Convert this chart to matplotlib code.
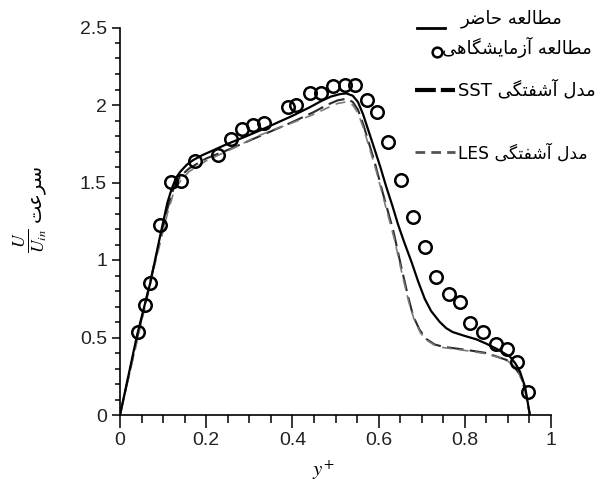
import matplotlib
matplotlib.use("Agg")
import matplotlib.pyplot as plt
from matplotlib.lines import Line2D
from matplotlib.ticker import MultipleLocator

plt.rcParams["mathtext.fontset"] = "stix"

# داده ها (خوانده شده از شکل)
exp_x = [0.041, 0.059, 0.069, 0.092, 0.119, 0.142, 0.173, 0.227, 0.257, 0.283,
         0.309, 0.333, 0.390, 0.408, 0.440, 0.467, 0.494, 0.521, 0.545, 0.572,
         0.597, 0.622, 0.653, 0.680, 0.707, 0.733, 0.764, 0.790, 0.813, 0.843,
         0.872, 0.897, 0.922, 0.947]
exp_y = [0.537, 0.710, 0.854, 1.226, 1.505, 1.510, 1.640, 1.675, 1.783, 1.845,
         1.868, 1.885, 1.990, 2.000, 2.075, 2.080, 2.120, 2.130, 2.130, 2.030,
         1.957, 1.763, 1.516, 1.280, 1.086, 0.888, 0.780, 0.731, 0.596, 0.538,
         0.458, 0.424, 0.344, 0.150]

present_x = [0.0, 0.04, 0.07, 0.095, 0.11, 0.12, 0.13, 0.14, 0.155, 0.17,
             0.19, 0.21, 0.246, 0.29, 0.324, 0.36, 0.40, 0.44, 0.47, 0.49,
             0.51, 0.525, 0.54, 0.552, 0.564, 0.577, 0.59, 0.604, 0.618, 0.632,
             0.645, 0.66, 0.676, 0.692, 0.707, 0.722, 0.742, 0.757, 0.772, 0.80,
             0.827, 0.85, 0.875, 0.905, 0.918, 0.928, 0.94, 0.951]
present_y = [0.0, 0.52, 0.85, 1.18, 1.37, 1.46, 1.53, 1.57, 1.615, 1.645,
             1.675, 1.70, 1.745, 1.795, 1.835, 1.88, 1.93, 1.985, 2.03, 2.055,
             2.07, 2.075, 2.06, 2.02, 1.94, 1.83, 1.72, 1.60, 1.47, 1.35,
             1.23, 1.11, 0.99, 0.86, 0.75, 0.67, 0.60, 0.56, 0.535, 0.51,
             0.488, 0.46, 0.425, 0.376, 0.33, 0.28, 0.18, 0.0]

sst_x = [0.0, 0.04, 0.08, 0.11, 0.125, 0.14, 0.16, 0.20, 0.25, 0.30, 0.35,
         0.40, 0.45, 0.48, 0.505, 0.525, 0.54, 0.552, 0.565, 0.578, 0.59,
         0.61, 0.634, 0.653, 0.668, 0.68, 0.695, 0.711, 0.73, 0.75, 0.804,
         0.85, 0.897, 0.915, 0.928, 0.94, 0.951]
sst_y = [0.0, 0.50, 0.98, 1.33, 1.47, 1.54, 1.59, 1.655, 1.71, 1.77, 1.83,
         1.89, 1.955, 2.0, 2.03, 2.04, 2.02, 1.97, 1.87, 1.75, 1.64,
         1.43, 1.19, 0.95, 0.77, 0.64, 0.55, 0.49, 0.455, 0.44, 0.42,
         0.40, 0.355, 0.31, 0.26, 0.16, 0.0]

les_x = [0.0, 0.04, 0.08, 0.11, 0.125, 0.14, 0.16, 0.20, 0.27, 0.316, 0.355,
         0.386, 0.45, 0.48, 0.505, 0.525, 0.54, 0.552, 0.565, 0.58, 0.595,
         0.614, 0.637, 0.656, 0.67, 0.682, 0.697, 0.713, 0.73, 0.75, 0.804,
         0.85, 0.897, 0.915, 0.928, 0.94, 0.951]
les_y = [0.0, 0.48, 0.96, 1.30, 1.44, 1.51, 1.57, 1.64, 1.73, 1.795, 1.84,
         1.87, 1.94, 1.98, 2.01, 2.02, 2.0, 1.95, 1.85, 1.71, 1.57,
         1.37, 1.13, 0.89, 0.73, 0.62, 0.53, 0.48, 0.45, 0.435, 0.415,
         0.395, 0.355, 0.31, 0.26, 0.16, 0.0]

x_ticks = [0, 0.2, 0.4, 0.6, 0.8, 1]
x_labels = ["0", "0.2", "0.4", "0.6", "0.8", "1"]
y_ticks = [0, 0.5, 1, 1.5, 2, 2.5]
y_labels = ["0", "0.5", "1", "1.5", "2", "2.5"]

lbl_present = "مطالعه حاضر"
lbl_exp = "مطالعه آزمایشگاهی"
lbl_sst = "مدل آشفتگی SST"
lbl_les = "مدل آشفتگی LES"
lbl_speed = "سرعت"

# شکل های حروف: (تنها، پایانی، آغازی، میانی)
FORMS = {
    "ا": ("\ufe8d", "\ufe8e", None, None),
    "آ": ("\ufe81", "\ufe82", None, None),
    "د": ("\ufea9", "\ufeaa", None, None),
    "ر": ("\ufead", "\ufeae", None, None),
    "ز": ("\ufeaf", "\ufeb0", None, None),
    "ت": ("\ufe95", "\ufe96", "\ufe97", "\ufe98"),
    "ح": ("\ufea1", "\ufea2", "\ufea3", "\ufea4"),
    "س": ("\ufeb1", "\ufeb2", "\ufeb3", "\ufeb4"),
    "ش": ("\ufeb5", "\ufeb6", "\ufeb7", "\ufeb8"),
    "ض": ("\ufebd", "\ufebe", "\ufebf", "\ufec0"),
    "ط": ("\ufec1", "\ufec2", "\ufec3", "\ufec4"),
    "ع": ("\ufec9", "\ufeca", "\ufecb", "\ufecc"),
    "ف": ("\ufed1", "\ufed2", "\ufed3", "\ufed4"),
    "ل": ("\ufedd", "\ufede", "\ufedf", "\ufee0"),
    "م": ("\ufee1", "\ufee2", "\ufee3", "\ufee4"),
    "ه": ("\ufee9", "\ufeea", "\ufeeb", "\ufeec"),
    "ی": ("\ufbfc", "\ufbfd", "\ufbfe", "\ufbff"),
    "گ": ("\ufb92", "\ufb93", "\ufb94", "\ufb95"),
}


def shape_word(word):
    if word[0] not in FORMS:
        return word
    out = []
    for i, ch in enumerate(word):
        iso, fin, ini, med = FORMS[ch]
        prev_joins = i > 0 and FORMS[word[i - 1]][2] is not None
        next_joins = i < len(word) - 1 and ini is not None
        if prev_joins and next_joins:
            out.append(med)
        elif prev_joins:
            out.append(fin)
        elif next_joins:
            out.append(ini)
        else:
            out.append(iso)
    return "".join(reversed(out))


def fa(text):
    # ترتیب نمایشی چپ به راست
    return " ".join(shape_word(w) for w in reversed(text.split(" ")))


W, H = 599, 482


def px(x, y):
    return x / W, 1 - y / H


fig = plt.figure(figsize=(W / 100, H / 100), dpi=100)
ax = fig.add_axes([120 / W, 1 - 415 / H, 431 / W, 387.5 / H])

ax.plot(sst_x, sst_y, color="#2b2b2b", lw=1.5, dashes=(8, 3))
ax.plot(les_x, les_y, color="#7a7a7a", lw=1.2, dashes=(6, 4))
ax.plot(present_x, present_y, color="black", lw=1.6)
ax.plot(exp_x, exp_y, ls="none", marker="o", ms=9, mfc="none",
        mec="black", mew=1.8)

ax.set_xlim(0, 1)
ax.set_ylim(0, 2.5)
ax.spines["top"].set_visible(False)
ax.spines["right"].set_visible(False)
for s in ("left", "bottom"):
    ax.spines[s].set_linewidth(1.2)

tick_font = {"family": ["Liberation Sans Narrow", "Liberation Sans"], "size": 14}
ax.set_xticks(x_ticks)
ax.set_xticklabels(x_labels, fontdict=tick_font, color="#222222")
ax.set_yticks(y_ticks)
ax.set_yticklabels(y_labels, fontdict=tick_font, color="#222222")
ax.xaxis.set_minor_locator(MultipleLocator(0.05))
ax.yaxis.set_minor_locator(MultipleLocator(0.1))
ax.tick_params(axis="x", which="major", length=9.4, width=1.1, pad=2.5)
ax.tick_params(axis="x", which="minor", length=5.8, width=1.1)
ax.tick_params(axis="y", which="major", length=5.8, width=1.1, pad=3.6)
ax.tick_params(axis="y", which="minor", length=3.6, width=1.1)

# برچسب محورها
fig.text(*px(323, 470), r"$y^{+}$", ha="center", va="center", fontsize=15)
fig.text(*px(31, 241), r"$\frac{U}{U_{in}}$", ha="center", va="center",
         rotation=90, fontsize=18)
fig.text(*px(35, 193), fa(lbl_speed), ha="center", va="center", rotation=90,
         fontsize=14, family="DejaVu Sans")

# راهنما
leg_font = {"family": "DejaVu Sans", "size": 13}
fig.add_artist(Line2D([px(417, 0)[0], px(445, 0)[0]], [px(0, 28)[1]] * 2,
                      color="black", lw=2))
fig.text(*px(562, 19), fa(lbl_present), ha="right", va="center", **leg_font)

fig.add_artist(Line2D([px(437, 0)[0]], [px(0, 52)[1]], ls="none", marker="o",
                      ms=7, mfc="none", mec="black", mew=1.8))
fig.text(*px(592, 47), fa(lbl_exp), ha="right", va="center", **leg_font)

fig.add_artist(Line2D([px(415, 0)[0], px(455, 0)[0]], [px(0, 90)[1]] * 2,
                      color="black", lw=3, dashes=(5, 1.2)))
fig.text(*px(596, 90), fa(lbl_sst), ha="right", va="center", **leg_font)

fig.add_artist(Line2D([px(415, 0)[0], px(455, 0)[0]], [px(0, 152)[1]] * 2,
                      color="#555555", lw=2, dashes=(3.5, 2.2)))
fig.text(*px(588, 153), fa(lbl_les), ha="right", va="center",
         family="DejaVu Sans", size=12.3)

fig.savefig("out.png", dpi=100)
